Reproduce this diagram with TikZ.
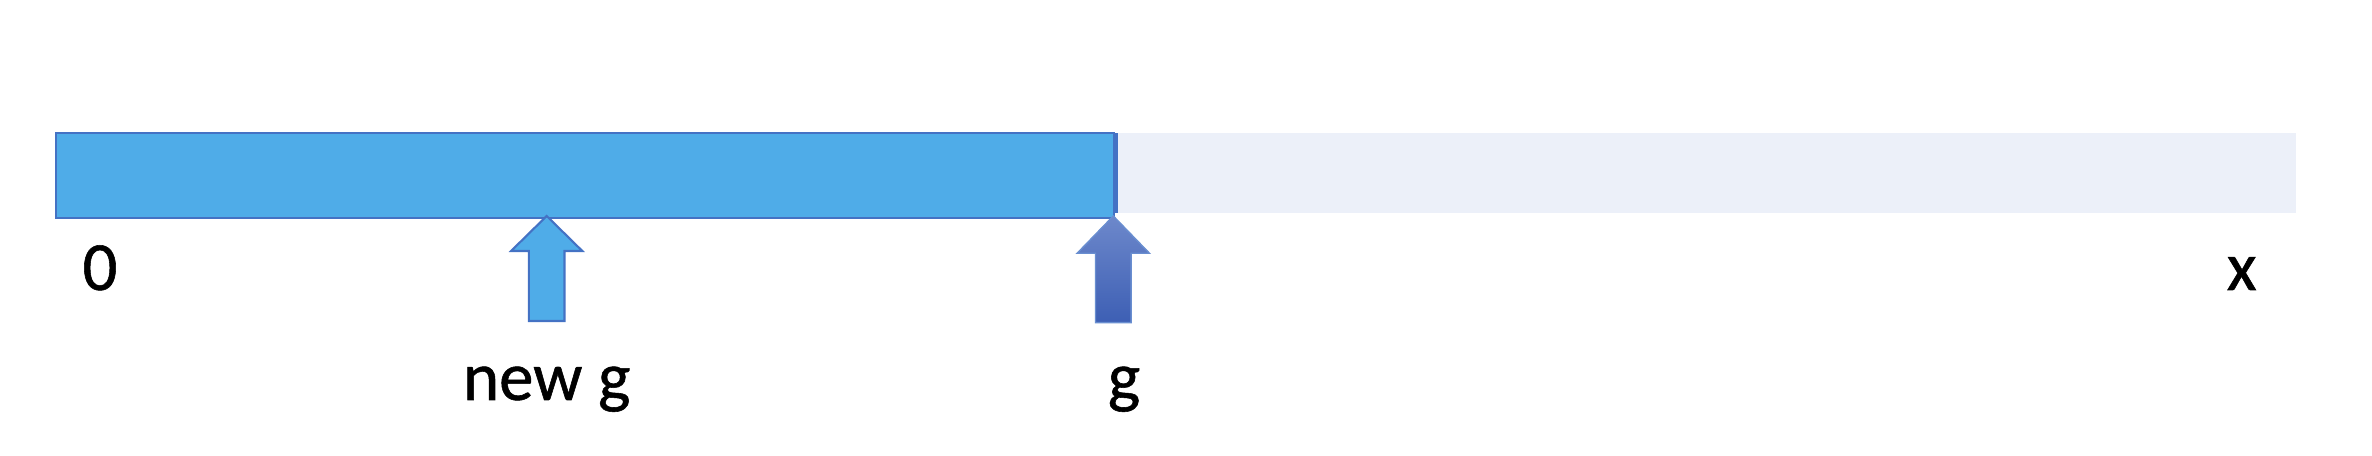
\documentclass[tikz,border=0pt]{standalone}
\usepackage{fontspec}
\setmainfont{Carlito}[UprightFeatures={FakeBold=0.8}]
\usepackage{tikz}
\definecolor{barblue}{HTML}{4FACE8}
\definecolor{edgeblue}{HTML}{4472C4}
\definecolor{restgray}{HTML}{ECF0F9}
\definecolor{arrtop}{HTML}{6D88CB}
\definecolor{arrbot}{HTML}{3D5FB4}
\tikzstyle{usedbar} = [rectangle, minimum width=10.573cm, minimum height=0.844cm, inner sep=0pt, draw=edgeblue, line width=0.6pt, fill=barblue]
\tikzstyle{restbar} = [rectangle, minimum width=11.774cm, minimum height=0.794cm, inner sep=0pt, fill=restgray]
\tikzstyle{markstrip} = [rectangle, minimum width=0.05cm, minimum height=0.794cm, inner sep=0pt, fill=edgeblue]
\tikzstyle{newarrow} = [draw=edgeblue, line width=0.6pt, fill=barblue, line join=miter]
\tikzstyle{oldarrow} = [draw=edgeblue!80, line width=0.4pt, top color=arrtop, bottom color=arrbot, line join=miter]
\tikzstyle{lbl} = [anchor=base, inner sep=0pt, font=\fontsize{19.6pt}{24pt}\selectfont]

\begin{document}
\begin{tikzpicture}[x=0.01cm, y=-0.01cm]
\useasboundingbox (0,0) rectangle (2372,456);
\node (rest) [restbar] at (1707,173) {};
\node (strip) [markstrip] at (1115.8,173) {};
\node (used) [usedbar] at (584.65,175.5) {};

\coordinate (newtip) at (546.7,216);
\coordinate (gtip) at (1113.3,216);
\draw [newarrow] (newtip) -- ++(35.6,35) -- ++(-17.8,0) -- ++(0,70) -- ++(-35.6,0) -- ++(0,-70) -- ++(-17.8,0) -- cycle;
\draw [oldarrow] (gtip) -- ++(36.2,37.3) -- ++(-18.4,0) -- ++(0,69.4) -- ++(-35.6,0) -- ++(0,-69.4) -- ++(-18.4,0) -- cycle;

\node (zero) [lbl] at (100,290) {0};
\node (xend) [lbl] at (2241.7,290) {x};
\node (newg) [lbl] at (546.7,400) {new g};
\node (oldg) [lbl] at (1124,400) {g};
\end{tikzpicture}
\end{document}
